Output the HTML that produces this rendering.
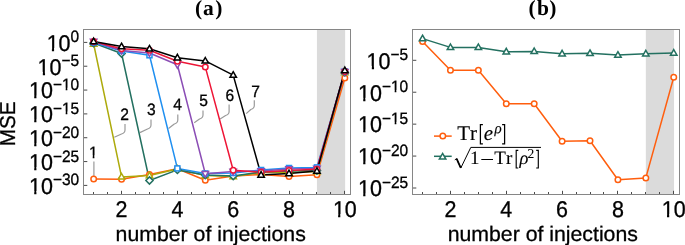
<!DOCTYPE html>
<html><head><meta charset="utf-8"><style>
html,body{margin:0;padding:0;background:#fff;width:685px;height:245px;overflow:hidden;position:relative}
</style></head><body>
<svg width="685" height="245" viewBox="0 0 685 245" style="position:absolute;left:0;top:0;will-change:transform;text-rendering:geometricPrecision">
<rect x="316.93" y="29.50" width="28.21" height="165.00" fill="#DBDBDB"/>
<rect x="83.50" y="29.50" width="267.00" height="165.00" fill="none" stroke="#868686" stroke-width="1"/>
<line x1="93.50" y1="194.00" x2="93.50" y2="192.00" stroke="#4A4A4A" stroke-width="1"/>
<line x1="107.50" y1="194.00" x2="107.50" y2="192.00" stroke="#4A4A4A" stroke-width="1"/>
<line x1="121.50" y1="194.00" x2="121.50" y2="190.80" stroke="#4A4A4A" stroke-width="1"/>
<line x1="135.50" y1="194.00" x2="135.50" y2="192.00" stroke="#4A4A4A" stroke-width="1"/>
<line x1="149.50" y1="194.00" x2="149.50" y2="192.00" stroke="#4A4A4A" stroke-width="1"/>
<line x1="163.50" y1="194.00" x2="163.50" y2="192.00" stroke="#4A4A4A" stroke-width="1"/>
<line x1="177.50" y1="194.00" x2="177.50" y2="190.80" stroke="#4A4A4A" stroke-width="1"/>
<line x1="191.50" y1="194.00" x2="191.50" y2="192.00" stroke="#4A4A4A" stroke-width="1"/>
<line x1="205.50" y1="194.00" x2="205.50" y2="192.00" stroke="#4A4A4A" stroke-width="1"/>
<line x1="219.50" y1="194.00" x2="219.50" y2="192.00" stroke="#4A4A4A" stroke-width="1"/>
<line x1="233.50" y1="194.00" x2="233.50" y2="190.80" stroke="#4A4A4A" stroke-width="1"/>
<line x1="247.50" y1="194.00" x2="247.50" y2="192.00" stroke="#4A4A4A" stroke-width="1"/>
<line x1="261.50" y1="194.00" x2="261.50" y2="192.00" stroke="#4A4A4A" stroke-width="1"/>
<line x1="275.50" y1="194.00" x2="275.50" y2="192.00" stroke="#4A4A4A" stroke-width="1"/>
<line x1="289.50" y1="194.00" x2="289.50" y2="190.80" stroke="#4A4A4A" stroke-width="1"/>
<line x1="302.50" y1="194.00" x2="302.50" y2="192.00" stroke="#4A4A4A" stroke-width="1"/>
<line x1="316.50" y1="194.00" x2="316.50" y2="192.00" stroke="#4A4A4A" stroke-width="1"/>
<line x1="330.50" y1="194.00" x2="330.50" y2="192.00" stroke="#4A4A4A" stroke-width="1"/>
<line x1="344.50" y1="194.00" x2="344.50" y2="190.80" stroke="#4A4A4A" stroke-width="1"/>
<line x1="84.00" y1="42.40" x2="87.30" y2="42.40" stroke="#4A4A4A" stroke-width="1"/>
<line x1="84.00" y1="66.23" x2="87.30" y2="66.23" stroke="#4A4A4A" stroke-width="1"/>
<line x1="84.00" y1="90.07" x2="87.30" y2="90.07" stroke="#4A4A4A" stroke-width="1"/>
<line x1="84.00" y1="113.90" x2="87.30" y2="113.90" stroke="#4A4A4A" stroke-width="1"/>
<line x1="84.00" y1="137.73" x2="87.30" y2="137.73" stroke="#4A4A4A" stroke-width="1"/>
<line x1="84.00" y1="161.57" x2="87.30" y2="161.57" stroke="#4A4A4A" stroke-width="1"/>
<line x1="84.00" y1="185.40" x2="87.30" y2="185.40" stroke="#4A4A4A" stroke-width="1"/>
<rect x="645.83" y="29.50" width="28.21" height="165.00" fill="#DBDBDB"/>
<rect x="412.50" y="29.50" width="267.00" height="165.00" fill="none" stroke="#868686" stroke-width="1"/>
<line x1="422.50" y1="194.00" x2="422.50" y2="192.00" stroke="#4A4A4A" stroke-width="1"/>
<line x1="436.50" y1="194.00" x2="436.50" y2="192.00" stroke="#4A4A4A" stroke-width="1"/>
<line x1="450.50" y1="194.00" x2="450.50" y2="190.80" stroke="#4A4A4A" stroke-width="1"/>
<line x1="464.50" y1="194.00" x2="464.50" y2="192.00" stroke="#4A4A4A" stroke-width="1"/>
<line x1="478.50" y1="194.00" x2="478.50" y2="192.00" stroke="#4A4A4A" stroke-width="1"/>
<line x1="492.50" y1="194.00" x2="492.50" y2="192.00" stroke="#4A4A4A" stroke-width="1"/>
<line x1="506.50" y1="194.00" x2="506.50" y2="190.80" stroke="#4A4A4A" stroke-width="1"/>
<line x1="520.50" y1="194.00" x2="520.50" y2="192.00" stroke="#4A4A4A" stroke-width="1"/>
<line x1="534.50" y1="194.00" x2="534.50" y2="192.00" stroke="#4A4A4A" stroke-width="1"/>
<line x1="548.50" y1="194.00" x2="548.50" y2="192.00" stroke="#4A4A4A" stroke-width="1"/>
<line x1="562.50" y1="194.00" x2="562.50" y2="190.80" stroke="#4A4A4A" stroke-width="1"/>
<line x1="576.50" y1="194.00" x2="576.50" y2="192.00" stroke="#4A4A4A" stroke-width="1"/>
<line x1="590.50" y1="194.00" x2="590.50" y2="192.00" stroke="#4A4A4A" stroke-width="1"/>
<line x1="603.50" y1="194.00" x2="603.50" y2="192.00" stroke="#4A4A4A" stroke-width="1"/>
<line x1="617.50" y1="194.00" x2="617.50" y2="190.80" stroke="#4A4A4A" stroke-width="1"/>
<line x1="631.50" y1="194.00" x2="631.50" y2="192.00" stroke="#4A4A4A" stroke-width="1"/>
<line x1="645.50" y1="194.00" x2="645.50" y2="192.00" stroke="#4A4A4A" stroke-width="1"/>
<line x1="659.50" y1="194.00" x2="659.50" y2="192.00" stroke="#4A4A4A" stroke-width="1"/>
<line x1="673.50" y1="194.00" x2="673.50" y2="190.80" stroke="#4A4A4A" stroke-width="1"/>
<line x1="413.00" y1="60.30" x2="416.30" y2="60.30" stroke="#4A4A4A" stroke-width="1"/>
<line x1="413.00" y1="92.22" x2="416.30" y2="92.22" stroke="#4A4A4A" stroke-width="1"/>
<line x1="413.00" y1="124.15" x2="416.30" y2="124.15" stroke="#4A4A4A" stroke-width="1"/>
<line x1="413.00" y1="156.07" x2="416.30" y2="156.07" stroke="#4A4A4A" stroke-width="1"/>
<line x1="413.00" y1="188.00" x2="416.30" y2="188.00" stroke="#4A4A4A" stroke-width="1"/>
<path d="M93.9 161.5 L93.9 176.5" fill="none" stroke="#9A9A9A" stroke-width="1.2" stroke-linejoin="round"/>
<path d="M125 124 L125 130 Q125 133 121.5 134 L114.3 137.2" fill="none" stroke="#9A9A9A" stroke-width="1.2" stroke-linejoin="round"/>
<path d="M151 119.5 L151 125 Q151 128 147.5 129 L139.9 132.6" fill="none" stroke="#9A9A9A" stroke-width="1.2" stroke-linejoin="round"/>
<path d="M177.8 114.6 L177.8 120 Q177.8 123 174.3 124 L168.5 128.5" fill="none" stroke="#9A9A9A" stroke-width="1.2" stroke-linejoin="round"/>
<path d="M203 110.5 L203 115 Q203 118 199.5 119 L194.2 122.8" fill="none" stroke="#9A9A9A" stroke-width="1.2" stroke-linejoin="round"/>
<path d="M229.1 104.6 L229.1 111.5 Q229.1 114.5 225.6 115.5 L220.1 119.0" fill="none" stroke="#9A9A9A" stroke-width="1.2" stroke-linejoin="round"/>
<path d="M254.3 100.3 L254.3 105.5 Q254.3 108.5 250.8 109.5 L246.2 113.6" fill="none" stroke="#9A9A9A" stroke-width="1.2" stroke-linejoin="round"/>
<polyline points="93.65,179.10 121.56,179.30 149.47,174.50 177.38,168.80 205.29,180.30 233.20,176.00 261.11,174.50 289.02,176.50 316.93,174.80 344.84,78.00" fill="none" stroke="#FF5E0E" stroke-width="1.5" stroke-linejoin="round"/>
<polyline points="93.65,44.00 121.56,176.90 149.47,175.60 177.38,169.00 205.29,175.50 233.20,176.50 261.11,172.50 289.02,172.50 316.93,171.50 344.84,72.50" fill="none" stroke="#ADAA0C" stroke-width="1.5" stroke-linejoin="round"/>
<polyline points="93.65,43.00 121.56,53.50 149.47,180.50 177.38,169.90 205.29,175.00 233.20,176.00 261.11,172.00 289.02,171.00 316.93,170.50 344.84,72.30" fill="none" stroke="#237060" stroke-width="1.5" stroke-linejoin="round"/>
<polyline points="93.65,42.50 121.56,51.00 149.47,55.30 177.38,168.40 205.29,173.50 233.20,173.00 261.11,170.00 289.02,168.00 316.93,167.40 344.84,71.50" fill="none" stroke="#1F8FF0" stroke-width="1.5" stroke-linejoin="round"/>
<polyline points="93.65,41.50 121.56,50.50 149.47,53.00 177.38,64.80 205.29,173.80 233.20,171.50 261.11,171.00 289.02,169.00 316.93,168.50 344.84,71.80" fill="none" stroke="#8B4DB5" stroke-width="1.5" stroke-linejoin="round"/>
<polyline points="93.65,41.50 121.56,48.80 149.47,50.20 177.38,61.20 205.29,66.90 233.20,170.20 261.11,172.20 289.02,170.50 316.93,169.30 344.84,71.50" fill="none" stroke="#EE1536" stroke-width="1.5" stroke-linejoin="round"/>
<polyline points="93.65,41.50 121.56,46.60 149.47,48.80 177.38,57.70 205.29,60.90 233.20,75.10 261.11,175.00 289.02,173.50 316.93,171.10 344.84,70.50" fill="none" stroke="#000000" stroke-width="1.5" stroke-linejoin="round"/>
<circle cx="93.65" cy="179.10" r="2.75" fill="#fff" stroke="#FF5E0E" stroke-width="1.5"/>
<circle cx="121.56" cy="179.30" r="2.75" fill="#fff" stroke="#FF5E0E" stroke-width="1.5"/>
<circle cx="149.47" cy="174.50" r="2.75" fill="#fff" stroke="#FF5E0E" stroke-width="1.5"/>
<circle cx="177.38" cy="168.80" r="2.75" fill="#fff" stroke="#FF5E0E" stroke-width="1.5"/>
<circle cx="205.29" cy="180.30" r="2.75" fill="#fff" stroke="#FF5E0E" stroke-width="1.5"/>
<circle cx="233.20" cy="176.00" r="2.75" fill="#fff" stroke="#FF5E0E" stroke-width="1.5"/>
<circle cx="261.11" cy="174.50" r="2.75" fill="#fff" stroke="#FF5E0E" stroke-width="1.5"/>
<circle cx="289.02" cy="176.50" r="2.75" fill="#fff" stroke="#FF5E0E" stroke-width="1.5"/>
<circle cx="316.93" cy="174.80" r="2.75" fill="#fff" stroke="#FF5E0E" stroke-width="1.5"/>
<circle cx="344.84" cy="78.00" r="2.75" fill="#fff" stroke="#FF5E0E" stroke-width="1.5"/>
<path d="M93.65 40.60L96.88 46.21L90.42 46.21Z" fill="#fff" stroke="#ADAA0C" stroke-width="1.5" stroke-linejoin="miter"/>
<path d="M121.56 173.50L124.79 179.11L118.33 179.11Z" fill="#fff" stroke="#ADAA0C" stroke-width="1.5" stroke-linejoin="miter"/>
<path d="M149.47 172.20L152.70 177.81L146.24 177.81Z" fill="#fff" stroke="#ADAA0C" stroke-width="1.5" stroke-linejoin="miter"/>
<path d="M177.38 165.60L180.61 171.21L174.15 171.21Z" fill="#fff" stroke="#ADAA0C" stroke-width="1.5" stroke-linejoin="miter"/>
<path d="M205.29 172.10L208.52 177.71L202.06 177.71Z" fill="#fff" stroke="#ADAA0C" stroke-width="1.5" stroke-linejoin="miter"/>
<path d="M233.20 173.10L236.43 178.71L229.97 178.71Z" fill="#fff" stroke="#ADAA0C" stroke-width="1.5" stroke-linejoin="miter"/>
<path d="M261.11 169.10L264.34 174.71L257.88 174.71Z" fill="#fff" stroke="#ADAA0C" stroke-width="1.5" stroke-linejoin="miter"/>
<path d="M289.02 169.10L292.25 174.71L285.79 174.71Z" fill="#fff" stroke="#ADAA0C" stroke-width="1.5" stroke-linejoin="miter"/>
<path d="M316.93 168.10L320.16 173.71L313.70 173.71Z" fill="#fff" stroke="#ADAA0C" stroke-width="1.5" stroke-linejoin="miter"/>
<path d="M344.84 69.10L348.07 74.71L341.61 74.71Z" fill="#fff" stroke="#ADAA0C" stroke-width="1.5" stroke-linejoin="miter"/>
<path d="M93.65 39.40L97.25 43.00L93.65 46.60L90.05 43.00Z" fill="#fff" stroke="#237060" stroke-width="1.5"/>
<path d="M121.56 49.90L125.16 53.50L121.56 57.10L117.96 53.50Z" fill="#fff" stroke="#237060" stroke-width="1.5"/>
<path d="M149.47 176.90L153.07 180.50L149.47 184.10L145.87 180.50Z" fill="#fff" stroke="#237060" stroke-width="1.5"/>
<path d="M177.38 166.30L180.98 169.90L177.38 173.50L173.78 169.90Z" fill="#fff" stroke="#237060" stroke-width="1.5"/>
<path d="M205.29 171.40L208.89 175.00L205.29 178.60L201.69 175.00Z" fill="#fff" stroke="#237060" stroke-width="1.5"/>
<path d="M233.20 172.40L236.80 176.00L233.20 179.60L229.60 176.00Z" fill="#fff" stroke="#237060" stroke-width="1.5"/>
<path d="M261.11 168.40L264.71 172.00L261.11 175.60L257.51 172.00Z" fill="#fff" stroke="#237060" stroke-width="1.5"/>
<path d="M289.02 167.40L292.62 171.00L289.02 174.60L285.42 171.00Z" fill="#fff" stroke="#237060" stroke-width="1.5"/>
<path d="M316.93 166.90L320.53 170.50L316.93 174.10L313.33 170.50Z" fill="#fff" stroke="#237060" stroke-width="1.5"/>
<path d="M344.84 68.70L348.44 72.30L344.84 75.90L341.24 72.30Z" fill="#fff" stroke="#237060" stroke-width="1.5"/>
<rect x="91.15" y="40.00" width="5.00" height="5.00" fill="#fff" stroke="#1F8FF0" stroke-width="1.5"/>
<rect x="119.06" y="48.50" width="5.00" height="5.00" fill="#fff" stroke="#1F8FF0" stroke-width="1.5"/>
<rect x="146.97" y="52.80" width="5.00" height="5.00" fill="#fff" stroke="#1F8FF0" stroke-width="1.5"/>
<rect x="174.88" y="165.90" width="5.00" height="5.00" fill="#fff" stroke="#1F8FF0" stroke-width="1.5"/>
<rect x="202.79" y="171.00" width="5.00" height="5.00" fill="#fff" stroke="#1F8FF0" stroke-width="1.5"/>
<rect x="230.70" y="170.50" width="5.00" height="5.00" fill="#fff" stroke="#1F8FF0" stroke-width="1.5"/>
<rect x="258.61" y="167.50" width="5.00" height="5.00" fill="#fff" stroke="#1F8FF0" stroke-width="1.5"/>
<rect x="286.52" y="165.50" width="5.00" height="5.00" fill="#fff" stroke="#1F8FF0" stroke-width="1.5"/>
<rect x="314.43" y="164.90" width="5.00" height="5.00" fill="#fff" stroke="#1F8FF0" stroke-width="1.5"/>
<rect x="342.34" y="69.00" width="5.00" height="5.00" fill="#fff" stroke="#1F8FF0" stroke-width="1.5"/>
<path d="M93.65 44.90L96.88 39.29L90.42 39.29Z" fill="#fff" stroke="#8B4DB5" stroke-width="1.5"/>
<path d="M121.56 53.90L124.79 48.29L118.33 48.29Z" fill="#fff" stroke="#8B4DB5" stroke-width="1.5"/>
<path d="M149.47 56.40L152.70 50.79L146.24 50.79Z" fill="#fff" stroke="#8B4DB5" stroke-width="1.5"/>
<path d="M177.38 68.20L180.61 62.59L174.15 62.59Z" fill="#fff" stroke="#8B4DB5" stroke-width="1.5"/>
<path d="M205.29 177.20L208.52 171.59L202.06 171.59Z" fill="#fff" stroke="#8B4DB5" stroke-width="1.5"/>
<path d="M233.20 174.90L236.43 169.29L229.97 169.29Z" fill="#fff" stroke="#8B4DB5" stroke-width="1.5"/>
<path d="M261.11 174.40L264.34 168.79L257.88 168.79Z" fill="#fff" stroke="#8B4DB5" stroke-width="1.5"/>
<path d="M289.02 172.40L292.25 166.79L285.79 166.79Z" fill="#fff" stroke="#8B4DB5" stroke-width="1.5"/>
<path d="M316.93 171.90L320.16 166.29L313.70 166.29Z" fill="#fff" stroke="#8B4DB5" stroke-width="1.5"/>
<path d="M344.84 75.20L348.07 69.59L341.61 69.59Z" fill="#fff" stroke="#8B4DB5" stroke-width="1.5"/>
<circle cx="93.65" cy="41.50" r="2.75" fill="#fff" stroke="#EE1536" stroke-width="1.5"/>
<circle cx="121.56" cy="48.80" r="2.75" fill="#fff" stroke="#EE1536" stroke-width="1.5"/>
<circle cx="149.47" cy="50.20" r="2.75" fill="#fff" stroke="#EE1536" stroke-width="1.5"/>
<circle cx="177.38" cy="61.20" r="2.75" fill="#fff" stroke="#EE1536" stroke-width="1.5"/>
<circle cx="205.29" cy="66.90" r="2.75" fill="#fff" stroke="#EE1536" stroke-width="1.5"/>
<circle cx="233.20" cy="170.20" r="2.75" fill="#fff" stroke="#EE1536" stroke-width="1.5"/>
<circle cx="261.11" cy="172.20" r="2.75" fill="#fff" stroke="#EE1536" stroke-width="1.5"/>
<circle cx="289.02" cy="170.50" r="2.75" fill="#fff" stroke="#EE1536" stroke-width="1.5"/>
<circle cx="316.93" cy="169.30" r="2.75" fill="#fff" stroke="#EE1536" stroke-width="1.5"/>
<circle cx="344.84" cy="71.50" r="2.75" fill="#fff" stroke="#EE1536" stroke-width="1.5"/>
<path d="M93.65 38.10L96.88 43.71L90.42 43.71Z" fill="#fff" stroke="#000000" stroke-width="1.5" stroke-linejoin="miter"/>
<path d="M121.56 43.20L124.79 48.81L118.33 48.81Z" fill="#fff" stroke="#000000" stroke-width="1.5" stroke-linejoin="miter"/>
<path d="M149.47 45.40L152.70 51.01L146.24 51.01Z" fill="#fff" stroke="#000000" stroke-width="1.5" stroke-linejoin="miter"/>
<path d="M177.38 54.30L180.61 59.91L174.15 59.91Z" fill="#fff" stroke="#000000" stroke-width="1.5" stroke-linejoin="miter"/>
<path d="M205.29 57.50L208.52 63.11L202.06 63.11Z" fill="#fff" stroke="#000000" stroke-width="1.5" stroke-linejoin="miter"/>
<path d="M233.20 71.70L236.43 77.31L229.97 77.31Z" fill="#fff" stroke="#000000" stroke-width="1.5" stroke-linejoin="miter"/>
<path d="M261.11 171.60L264.34 177.21L257.88 177.21Z" fill="#fff" stroke="#000000" stroke-width="1.5" stroke-linejoin="miter"/>
<path d="M289.02 170.10L292.25 175.71L285.79 175.71Z" fill="#fff" stroke="#000000" stroke-width="1.5" stroke-linejoin="miter"/>
<path d="M316.93 167.70L320.16 173.31L313.70 173.31Z" fill="#fff" stroke="#000000" stroke-width="1.5" stroke-linejoin="miter"/>
<path d="M344.84 67.10L348.07 72.71L341.61 72.71Z" fill="#fff" stroke="#000000" stroke-width="1.5" stroke-linejoin="miter"/>
<polyline points="422.55,41.60 450.46,70.20 478.37,70.20 506.28,103.70 534.19,103.70 562.10,141.20 590.01,140.70 617.92,179.70 645.83,177.90 673.74,77.30" fill="none" stroke="#FF5E0E" stroke-width="1.5" stroke-linejoin="round"/>
<polyline points="422.55,38.60 450.46,47.40 478.37,47.40 506.28,51.70 534.19,51.40 562.10,53.70 590.01,53.30 617.92,55.10 645.83,53.70 673.74,53.00" fill="none" stroke="#237060" stroke-width="1.5" stroke-linejoin="round"/>
<circle cx="422.55" cy="41.60" r="2.75" fill="#fff" stroke="#FF5E0E" stroke-width="1.5"/>
<circle cx="450.46" cy="70.20" r="2.75" fill="#fff" stroke="#FF5E0E" stroke-width="1.5"/>
<circle cx="478.37" cy="70.20" r="2.75" fill="#fff" stroke="#FF5E0E" stroke-width="1.5"/>
<circle cx="506.28" cy="103.70" r="2.75" fill="#fff" stroke="#FF5E0E" stroke-width="1.5"/>
<circle cx="534.19" cy="103.70" r="2.75" fill="#fff" stroke="#FF5E0E" stroke-width="1.5"/>
<circle cx="562.10" cy="141.20" r="2.75" fill="#fff" stroke="#FF5E0E" stroke-width="1.5"/>
<circle cx="590.01" cy="140.70" r="2.75" fill="#fff" stroke="#FF5E0E" stroke-width="1.5"/>
<circle cx="617.92" cy="179.70" r="2.75" fill="#fff" stroke="#FF5E0E" stroke-width="1.5"/>
<circle cx="645.83" cy="177.90" r="2.75" fill="#fff" stroke="#FF5E0E" stroke-width="1.5"/>
<circle cx="673.74" cy="77.30" r="2.75" fill="#fff" stroke="#FF5E0E" stroke-width="1.5"/>
<path d="M422.55 35.20L425.78 40.81L419.32 40.81Z" fill="#fff" stroke="#237060" stroke-width="1.5" stroke-linejoin="miter"/>
<path d="M450.46 44.00L453.69 49.61L447.23 49.61Z" fill="#fff" stroke="#237060" stroke-width="1.5" stroke-linejoin="miter"/>
<path d="M478.37 44.00L481.60 49.61L475.14 49.61Z" fill="#fff" stroke="#237060" stroke-width="1.5" stroke-linejoin="miter"/>
<path d="M506.28 48.30L509.51 53.91L503.05 53.91Z" fill="#fff" stroke="#237060" stroke-width="1.5" stroke-linejoin="miter"/>
<path d="M534.19 48.00L537.42 53.61L530.96 53.61Z" fill="#fff" stroke="#237060" stroke-width="1.5" stroke-linejoin="miter"/>
<path d="M562.10 50.30L565.33 55.91L558.87 55.91Z" fill="#fff" stroke="#237060" stroke-width="1.5" stroke-linejoin="miter"/>
<path d="M590.01 49.90L593.24 55.51L586.78 55.51Z" fill="#fff" stroke="#237060" stroke-width="1.5" stroke-linejoin="miter"/>
<path d="M617.92 51.70L621.15 57.31L614.69 57.31Z" fill="#fff" stroke="#237060" stroke-width="1.5" stroke-linejoin="miter"/>
<path d="M645.83 50.30L649.06 55.91L642.60 55.91Z" fill="#fff" stroke="#237060" stroke-width="1.5" stroke-linejoin="miter"/>
<path d="M673.74 49.60L676.97 55.21L670.51 55.21Z" fill="#fff" stroke="#237060" stroke-width="1.5" stroke-linejoin="miter"/>
<g id="t1" transform="translate(93.30,157.60) scale(1,1.06)"><text x="0" y="0" font-family="'Liberation Sans', sans-serif" font-size="15.6" text-anchor="middle" stroke="#000" stroke-width="0.3" >1</text><rect x="-4.18" y="-2.04" width="3.59" height="3.79" fill="#fff"/><rect x="1.09" y="-2.04" width="3.14" height="3.79" fill="#fff"/></g>
<g id="t2" transform="translate(124.50,119.70) scale(1,1.06)"><text x="0" y="0" font-family="'Liberation Sans', sans-serif" font-size="15.6" text-anchor="middle" stroke="#000" stroke-width="0.3" >2</text></g>
<g id="t3" transform="translate(151.40,115.30) scale(1,1.06)"><text x="0" y="0" font-family="'Liberation Sans', sans-serif" font-size="15.6" text-anchor="middle" stroke="#000" stroke-width="0.3" >3</text></g>
<g id="t4" transform="translate(177.70,110.40) scale(1,1.06)"><text x="0" y="0" font-family="'Liberation Sans', sans-serif" font-size="15.6" text-anchor="middle" stroke="#000" stroke-width="0.3" >4</text></g>
<g id="t5" transform="translate(203.70,106.10) scale(1,1.06)"><text x="0" y="0" font-family="'Liberation Sans', sans-serif" font-size="15.6" text-anchor="middle" stroke="#000" stroke-width="0.3" >5</text></g>
<g id="t6" transform="translate(229.80,101.40) scale(1,1.06)"><text x="0" y="0" font-family="'Liberation Sans', sans-serif" font-size="15.6" text-anchor="middle" stroke="#000" stroke-width="0.3" >6</text></g>
<g id="t7" transform="translate(255.50,96.90) scale(1,1.06)"><text x="0" y="0" font-family="'Liberation Sans', sans-serif" font-size="15.6" text-anchor="middle" stroke="#000" stroke-width="0.3" >7</text></g>
<g id="t8" transform="translate(79.20,50.70) scale(1,1.06)"><text x="0" y="0" font-family="'Liberation Sans', sans-serif" font-size="21.5" text-anchor="end" stroke="#000" stroke-width="0.3" >10<tspan font-size="15.5" dy="-7.9">0</tspan></text><rect x="-32.27" y="-2.53" width="4.95" height="4.28" fill="#fff"/><rect x="-25.11" y="-2.53" width="4.32" height="4.28" fill="#fff"/></g>
<g id="t9" transform="translate(79.20,74.53) scale(1,1.06)"><text x="0" y="0" font-family="'Liberation Sans', sans-serif" font-size="21.5" text-anchor="end" stroke="#000" stroke-width="0.3" >10<tspan font-size="15.5" dy="-7.9">−5</tspan></text><rect x="-41.33" y="-2.53" width="4.95" height="4.28" fill="#fff"/><rect x="-34.17" y="-2.53" width="4.32" height="4.28" fill="#fff"/></g>
<g id="t10" transform="translate(79.20,98.37) scale(1,1.06)"><text x="0" y="0" font-family="'Liberation Sans', sans-serif" font-size="21.5" text-anchor="end" stroke="#000" stroke-width="0.3" >10<tspan font-size="15.5" dy="-7.9">−10</tspan></text><rect x="-49.94" y="-2.53" width="4.95" height="4.28" fill="#fff"/><rect x="-42.78" y="-2.53" width="4.32" height="4.28" fill="#fff"/><rect x="-17.09" y="-9.94" width="3.56" height="3.79" fill="#fff"/><rect x="-11.85" y="-9.94" width="3.12" height="3.79" fill="#fff"/></g>
<g id="t11" transform="translate(79.20,122.20) scale(1,1.06)"><text x="0" y="0" font-family="'Liberation Sans', sans-serif" font-size="21.5" text-anchor="end" stroke="#000" stroke-width="0.3" >10<tspan font-size="15.5" dy="-7.9">−15</tspan></text><rect x="-49.94" y="-2.53" width="4.95" height="4.28" fill="#fff"/><rect x="-42.78" y="-2.53" width="4.32" height="4.28" fill="#fff"/><rect x="-17.09" y="-9.94" width="3.56" height="3.79" fill="#fff"/><rect x="-11.85" y="-9.94" width="3.12" height="3.79" fill="#fff"/></g>
<g id="t12" transform="translate(79.20,146.03) scale(1,1.06)"><text x="0" y="0" font-family="'Liberation Sans', sans-serif" font-size="21.5" text-anchor="end" stroke="#000" stroke-width="0.3" >10<tspan font-size="15.5" dy="-7.9">−20</tspan></text><rect x="-49.94" y="-2.53" width="4.95" height="4.28" fill="#fff"/><rect x="-42.78" y="-2.53" width="4.32" height="4.28" fill="#fff"/></g>
<g id="t13" transform="translate(79.20,169.87) scale(1,1.06)"><text x="0" y="0" font-family="'Liberation Sans', sans-serif" font-size="21.5" text-anchor="end" stroke="#000" stroke-width="0.3" >10<tspan font-size="15.5" dy="-7.9">−25</tspan></text><rect x="-49.94" y="-2.53" width="4.95" height="4.28" fill="#fff"/><rect x="-42.78" y="-2.53" width="4.32" height="4.28" fill="#fff"/></g>
<g id="t14" transform="translate(79.20,193.70) scale(1,1.06)"><text x="0" y="0" font-family="'Liberation Sans', sans-serif" font-size="21.5" text-anchor="end" stroke="#000" stroke-width="0.3" >10<tspan font-size="15.5" dy="-7.9">−30</tspan></text><rect x="-49.94" y="-2.53" width="4.95" height="4.28" fill="#fff"/><rect x="-42.78" y="-2.53" width="4.32" height="4.28" fill="#fff"/></g>
<g id="t15" transform="translate(408.20,68.60) scale(1,1.06)"><text x="0" y="0" font-family="'Liberation Sans', sans-serif" font-size="21.5" text-anchor="end" stroke="#000" stroke-width="0.3" >10<tspan font-size="15.5" dy="-7.9">−5</tspan></text><rect x="-41.33" y="-2.53" width="4.95" height="4.28" fill="#fff"/><rect x="-34.17" y="-2.53" width="4.32" height="4.28" fill="#fff"/></g>
<g id="t16" transform="translate(408.20,100.52) scale(1,1.06)"><text x="0" y="0" font-family="'Liberation Sans', sans-serif" font-size="21.5" text-anchor="end" stroke="#000" stroke-width="0.3" >10<tspan font-size="15.5" dy="-7.9">−10</tspan></text><rect x="-49.94" y="-2.53" width="4.95" height="4.28" fill="#fff"/><rect x="-42.78" y="-2.53" width="4.32" height="4.28" fill="#fff"/><rect x="-17.09" y="-9.94" width="3.56" height="3.79" fill="#fff"/><rect x="-11.85" y="-9.94" width="3.12" height="3.79" fill="#fff"/></g>
<g id="t17" transform="translate(408.20,132.45) scale(1,1.06)"><text x="0" y="0" font-family="'Liberation Sans', sans-serif" font-size="21.5" text-anchor="end" stroke="#000" stroke-width="0.3" >10<tspan font-size="15.5" dy="-7.9">−15</tspan></text><rect x="-49.94" y="-2.53" width="4.95" height="4.28" fill="#fff"/><rect x="-42.78" y="-2.53" width="4.32" height="4.28" fill="#fff"/><rect x="-17.09" y="-9.94" width="3.56" height="3.79" fill="#fff"/><rect x="-11.85" y="-9.94" width="3.12" height="3.79" fill="#fff"/></g>
<g id="t18" transform="translate(408.20,164.38) scale(1,1.06)"><text x="0" y="0" font-family="'Liberation Sans', sans-serif" font-size="21.5" text-anchor="end" stroke="#000" stroke-width="0.3" >10<tspan font-size="15.5" dy="-7.9">−20</tspan></text><rect x="-49.94" y="-2.53" width="4.95" height="4.28" fill="#fff"/><rect x="-42.78" y="-2.53" width="4.32" height="4.28" fill="#fff"/></g>
<g id="t19" transform="translate(408.20,196.30) scale(1,1.06)"><text x="0" y="0" font-family="'Liberation Sans', sans-serif" font-size="21.5" text-anchor="end" stroke="#000" stroke-width="0.3" >10<tspan font-size="15.5" dy="-7.9">−25</tspan></text><rect x="-49.94" y="-2.53" width="4.95" height="4.28" fill="#fff"/><rect x="-42.78" y="-2.53" width="4.32" height="4.28" fill="#fff"/></g>
<g id="t20" transform="translate(121.56,216.90) scale(1,1.06)"><text x="0" y="0" font-family="'Liberation Sans', sans-serif" font-size="21.5" text-anchor="middle" stroke="#000" stroke-width="0.3" >2</text></g>
<g id="t21" transform="translate(450.46,216.90) scale(1,1.06)"><text x="0" y="0" font-family="'Liberation Sans', sans-serif" font-size="21.5" text-anchor="middle" stroke="#000" stroke-width="0.3" >2</text></g>
<g id="t22" transform="translate(177.38,216.90) scale(1,1.06)"><text x="0" y="0" font-family="'Liberation Sans', sans-serif" font-size="21.5" text-anchor="middle" stroke="#000" stroke-width="0.3" >4</text></g>
<g id="t23" transform="translate(506.28,216.90) scale(1,1.06)"><text x="0" y="0" font-family="'Liberation Sans', sans-serif" font-size="21.5" text-anchor="middle" stroke="#000" stroke-width="0.3" >4</text></g>
<g id="t24" transform="translate(233.20,216.90) scale(1,1.06)"><text x="0" y="0" font-family="'Liberation Sans', sans-serif" font-size="21.5" text-anchor="middle" stroke="#000" stroke-width="0.3" >6</text></g>
<g id="t25" transform="translate(562.10,216.90) scale(1,1.06)"><text x="0" y="0" font-family="'Liberation Sans', sans-serif" font-size="21.5" text-anchor="middle" stroke="#000" stroke-width="0.3" >6</text></g>
<g id="t26" transform="translate(289.02,216.90) scale(1,1.06)"><text x="0" y="0" font-family="'Liberation Sans', sans-serif" font-size="21.5" text-anchor="middle" stroke="#000" stroke-width="0.3" >8</text></g>
<g id="t27" transform="translate(617.92,216.90) scale(1,1.06)"><text x="0" y="0" font-family="'Liberation Sans', sans-serif" font-size="21.5" text-anchor="middle" stroke="#000" stroke-width="0.3" >8</text></g>
<g id="t28" transform="translate(344.84,216.90) scale(1,1.06)"><text x="0" y="0" font-family="'Liberation Sans', sans-serif" font-size="21.5" text-anchor="middle" stroke="#000" stroke-width="0.3" >10</text><rect x="-11.68" y="-2.53" width="4.95" height="4.28" fill="#fff"/><rect x="-4.52" y="-2.53" width="4.32" height="4.28" fill="#fff"/></g>
<g id="t29" transform="translate(673.74,216.90) scale(1,1.06)"><text x="0" y="0" font-family="'Liberation Sans', sans-serif" font-size="21.5" text-anchor="middle" stroke="#000" stroke-width="0.3" >10</text><rect x="-11.68" y="-2.53" width="4.95" height="4.28" fill="#fff"/><rect x="-4.52" y="-2.53" width="4.32" height="4.28" fill="#fff"/></g>
<text transform="translate(115.6,240.8) scale(1,0.99)" font-family="'Liberation Sans', sans-serif" font-size="21.2" textLength="190.2" lengthAdjust="spacingAndGlyphs" stroke="#000" stroke-width="0.3">number of injections</text>
<text transform="translate(447.7,240.8) scale(1,0.99)" font-family="'Liberation Sans', sans-serif" font-size="21.2" textLength="190.2" lengthAdjust="spacingAndGlyphs" stroke="#000" stroke-width="0.3">number of injections</text>
<text transform="translate(15.3,146.3) rotate(-90)" x="0" y="0" font-family="'Liberation Sans', sans-serif" font-size="21.5" textLength="44.8" lengthAdjust="spacingAndGlyphs" stroke="#000" stroke-width="0.3">MSE</text>
<text x="195.0" y="14.9" font-family="'Liberation Serif', serif" font-weight="bold" font-size="21.5">(</text><text x="203.1" y="14.9" font-family="'Liberation Serif', serif" font-weight="bold" font-size="21.5">a</text><text x="215.2" y="14.9" font-family="'Liberation Serif', serif" font-weight="bold" font-size="21.5">)</text>
<text x="528.6" y="15.1" font-family="'Liberation Serif', serif" font-weight="bold" font-size="21.5">(</text><text x="536.9" y="15.1" font-family="'Liberation Serif', serif" font-weight="bold" font-size="21.5">b</text><text x="549.2" y="15.1" font-family="'Liberation Serif', serif" font-weight="bold" font-size="21.5">)</text>
<line x1="434" y1="136.1" x2="451.7" y2="136.1" stroke="#FF5E0E" stroke-width="1.5"/>
<circle cx="442.80" cy="136.10" r="2.75" fill="#fff" stroke="#FF5E0E" stroke-width="1.5"/>
<line x1="434" y1="156.3" x2="451.7" y2="156.3" stroke="#237060" stroke-width="1.5"/>
<path d="M442.60 153.40L445.83 159.01L439.37 159.01Z" fill="#fff" stroke="#237060" stroke-width="1.5" stroke-linejoin="miter"/>
<text x="457.3" y="139.6" font-family="'Liberation Serif', serif" font-size="21" stroke="#000" stroke-width="0.15">T</text><text x="470.1" y="139.6" font-family="'Liberation Serif', serif" font-size="21" stroke="#000" stroke-width="0.15">r</text>
<text x="483.7" y="139.6" font-family="'Liberation Serif', serif" font-size="21" stroke="#000" stroke-width="0.15" font-style="italic">e</text>
<text x="494.4" y="132.6" font-family="'Liberation Serif', serif" font-size="15" font-style="italic" stroke="#000" stroke-width="0.12">ρ</text>
<path d="M482.9 124.7 H480.4 V143.9 H482.9 M502.1 124.7 H504.6 V143.9 H502.1" fill="none" stroke="#000" stroke-width="1.25"/>
<text x="470.1" y="164.3" font-family="'Liberation Serif', serif" font-size="19" stroke="#000" stroke-width="0.12">1</text>
<line x1="481.3" y1="159.5" x2="493" y2="159.5" stroke="#000" stroke-width="1.05"/>
<text x="494.3" y="164.3" font-family="'Liberation Serif', serif" font-size="19" stroke="#000" stroke-width="0.12">T</text><text x="505.9" y="164.3" font-family="'Liberation Serif', serif" font-size="19" stroke="#000" stroke-width="0.12">r</text>
<text x="519.4" y="164.0" font-family="'Liberation Serif', serif" font-size="18.5" font-style="italic" stroke="#000" stroke-width="0.12">ρ</text>
<text x="527.6" y="158.3" font-family="'Liberation Serif', serif" font-size="13.5" stroke="#000" stroke-width="0.1">2</text>
<path d="M518.3 150.4 H516.2 V168.0 H518.3 M536.2 150.4 H538.3 V168.0 H536.2" fill="none" stroke="#000" stroke-width="1.15"/>
<path d="M454.8 159.9 L456.6 158.6 L460.8 168.0 L470.8 147.4 L541 147.4" fill="none" stroke="#000" stroke-width="1" stroke-linejoin="miter"/>
<path d="M456.6 158.6 L460.8 168.0" fill="none" stroke="#000" stroke-width="1.8"/>
</svg>
</body></html>
